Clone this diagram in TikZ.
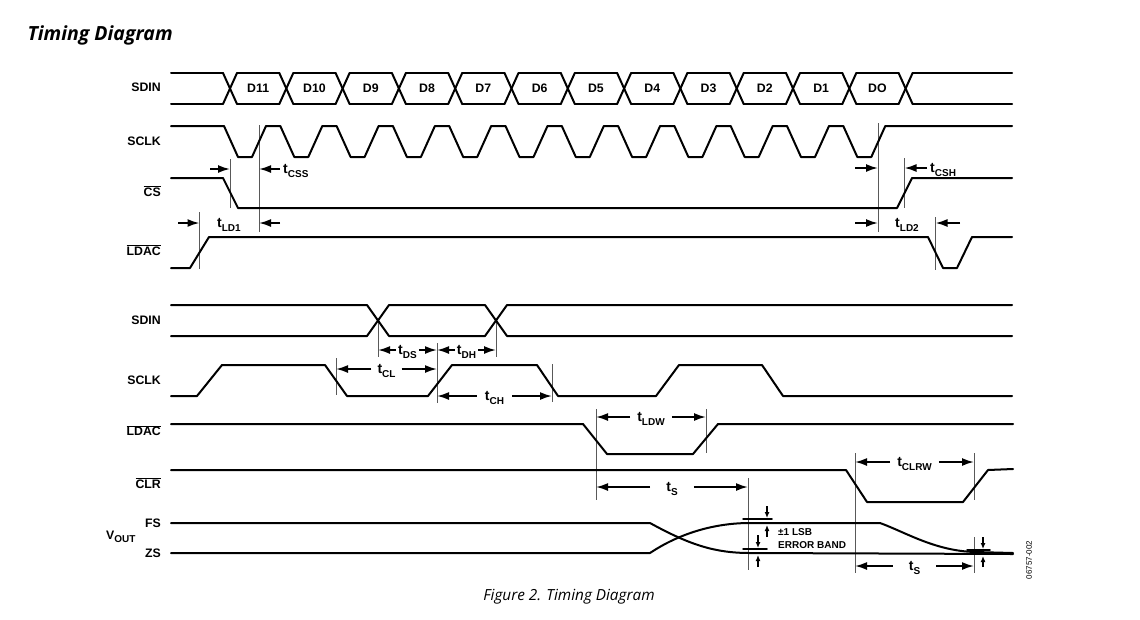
\documentclass[tikz,border=0pt]{standalone}
\usepackage{fontspec}
\setmainfont{Liberation Sans}
\newfontfamily\capfont{Open Sans}
\usepackage{tikz}
\usetikzlibrary{arrows.meta,positioning,calc}

\newcommand{\tlab}[1]{t\raisebox{-3.5pt}{\fontsize{10}{10}\selectfont #1}}
\newcommand{\nbar}[1]{$\overline{\mbox{#1}}$}

\begin{document}
\begin{tikzpicture}[
    x=1pt, y=-1pt,
    >={Latex[length=12pt,width=8pt]},
    wave/.style={line width=2pt, line join=round, line cap=round},
    guide/.style={draw=black!65, line width=0.9pt},
    dim/.style={->, line width=1.8pt},
    sdim/.style={-{Latex[length=6pt,width=5pt]}, line width=1.2pt},
    sig/.style={font=\fontsize{12.3}{13}\selectfont\bfseries, anchor=east, inner sep=0pt},
    bit/.style={font=\fontsize{12.3}{13}\selectfont\bfseries, inner sep=0pt},
    tl/.style={font=\fontsize{14}{14}\selectfont\bfseries, inner sep=2pt}
  ]
  \useasboundingbox (0,0) rectangle (1140,619);

  % titel und unterschrift
  \node[anchor=west, font=\capfont\fontsize{19.5}{20}\selectfont\bfseries\itshape] (title) at (24,35) {Timing Diagram};
  \node[font=\capfont\fontsize{15.3}{16}\selectfont\itshape] (caption) at (569,597) {Figure 2. Timing Diagram};
  \node[rotate=90, font=\fontsize{8}{8}\selectfont] (docnum) at (1029,560) {06757-002};

  % signalnamen
  \node[sig] (l-sdin) at (161,87) {SDIN};
  \node[sig] (l-sclk) at (161,141) {SCLK};
  \node[sig] (l-cs) at (161,191) {\nbar{CS}};
  \node[sig] (l-ldac) at (161,250) {\nbar{LDAC}};
  \node[sig] (l-sdin2) at (161,320) {SDIN};
  \node[sig] (l-sclk2) at (161,380) {SCLK};
  \node[sig] (l-ldac2) at (161,430.5) {\nbar{LDAC}};
  \node[sig] (l-clr) at (161,483) {\nbar{CLR}};
  \node[sig] (l-fs) at (161,523.5) {FS};
  \node[sig] (l-zs) at (161,553.5) {ZS};
  \node[sig, anchor=west] (l-vout) at (106,537) {V\raisebox{-3pt}{\fontsize{10}{10}\selectfont OUT}};

  % hilfslinien oben
  \draw[guide] (230,159) -- (230,208);
  \draw[guide] (259,125) -- (259,232);
  \draw[guide] (199.5,212) -- (199.5,269);
  \draw[guide] (878,123) -- (878,232);
  \draw[guide] (904.5,158) -- (904.5,208);
  \draw[guide] (935.5,217) -- (935.5,270);

  % SDIN bus, D11 ... DO
  \draw[wave] (171,73) -- (223,73);
  \draw[wave] (171,104) -- (223,104);
  \foreach \i in {0,...,12} {
    \draw[wave] ({223+56.3*\i},73) -- ({237+56.3*\i},104);
    \draw[wave] ({223+56.3*\i},104) -- ({237+56.3*\i},73);
  }
  \foreach \n [count=\i from 0] in {D11,D10,D9,D8,D7,D6,D5,D4,D3,D2,D1,DO} {
    \draw[wave] ({237+56.3*\i},73) -- ({279.3+56.3*\i},73);
    \draw[wave] ({237+56.3*\i},104) -- ({279.3+56.3*\i},104);
    \node[bit] (d\i) at ({258.15+56.3*\i},88.5) {\n};
  }
  \draw[wave] (912.6,73) -- (1012,73);
  \draw[wave] (912.6,104) -- (1012,104);

  % SCLK, 12 takte
  \draw[wave] (171,126) foreach \i in {0,...,11} {
      -- ({224+56.3*\i},126) -- ({238+56.3*\i},157) -- ({252+56.3*\i},157) -- ({266+56.3*\i},126)
    } -- (1012,126);

  % CS
  \draw[wave] (171,178) -- (223,178) -- (238,208) -- (897,208) -- (912,178) -- (1012,178);

  % LDAC
  \draw[wave] (171,268) -- (190,268) -- (209,237) -- (928,237) -- (943,268) -- (957,268) -- (972,237) -- (1012,237);

  % t_CSS / t_LD1
  \coordinate (css-a) at (210,169);
  \coordinate (css-b) at (230,169);
  \coordinate (css-c) at (280,169);
  \coordinate (css-d) at (259,169);
  \draw[dim] (css-a) -- (css-b);
  \draw[dim] (css-c) -- (css-d);
  \node[tl, anchor=west] (t-css) at (281,171) {\tlab{CSS}};

  \coordinate (ld1-a) at (178,223);
  \coordinate (ld1-b) at (199.5,223);
  \coordinate (ld1-c) at (280,223);
  \coordinate (ld1-d) at (259,223);
  \draw[dim] (ld1-a) -- (ld1-b);
  \draw[dim] (ld1-c) -- (ld1-d);
  \node[tl] (t-ld1) at (229,225) {\tlab{LD1}};

  % t_CSH / t_LD2
  \coordinate (csh-a) at (855,168);
  \coordinate (csh-b) at (878,168);
  \coordinate (csh-c) at (927,168);
  \coordinate (csh-d) at (904.5,168);
  \draw[dim] (csh-a) -- (csh-b);
  \draw[dim] (csh-c) -- (csh-d);
  \node[tl, anchor=west] (t-csh) at (928,170) {\tlab{CSH}};

  \coordinate (ld2-a) at (855,223);
  \coordinate (ld2-b) at (878,223);
  \coordinate (ld2-c) at (960,223);
  \coordinate (ld2-d) at (935.5,223);
  \draw[dim] (ld2-a) -- (ld2-b);
  \draw[dim] (ld2-c) -- (ld2-d);
  \node[tl] (t-ld2) at (907,225) {\tlab{LD2}};

  % hilfslinien unten
  \draw[guide] (378,320) -- (378,357);
  \draw[guide] (496,320) -- (496,357);
  \draw[guide] (437,343) -- (437,403);
  \draw[guide] (336,358) -- (336,395);
  \draw[guide] (552,364) -- (552,402);
  \draw[guide] (596,409) -- (596,500);
  \draw[guide] (706,409) -- (706,453);
  \draw[guide] (748,478) -- (748,570);
  \draw[guide] (855,453) -- (855,573);
  \draw[guide] (974,453) -- (974,500);
  \draw[guide] (974,537) -- (974,573);

  % SDIN einzelbit
  \draw[wave] (171,305) -- (367,305) -- (389,336) -- (485,336) -- (507,305) -- (1012,305);
  \draw[wave] (171,336) -- (367,336) -- (389,305) -- (485,305) -- (507,336) -- (1012,336);

  % SCLK einzeln
  \draw[wave] (171,396) -- (197,396) -- (222,365) -- (325,365) -- (347,396) -- (428,396) -- (452,365)
    -- (537,365) -- (558,396) -- (656,396) -- (679,365) -- (762,365) -- (783,396) -- (1012,396);

  % LDAC und CLR
  \draw[wave] (171,424) -- (583,424) -- (607,454) -- (693,454) -- (718,424) -- (1013,424);
  \draw[wave] (171,470) -- (846,470) -- (867,502) -- (963,502) -- (988,470) -- (1013,469);

  % VOUT
  \draw[wave] (171,523) -- (650,523) .. controls (690,545) and (715,553) .. (750,553) -- (1013,554);
  \draw[wave] (171,553) -- (650,553) .. controls (680,533) and (715,523) .. (750,523) -- (880,523)
    .. controls (905,532) and (935,551) .. (975,552) -- (1013,553);

  % t_DS, t_DH
  \coordinate (ds-l) at (378,350);
  \coordinate (ds-r) at (437,350);
  \node[tl] (t-ds) at (407.5,352) {\tlab{DS}};
  \draw[dim] (t-ds.west |- ds-l) -- (ds-l);
  \draw[dim] (t-ds.east |- ds-r) -- (ds-r);
  \coordinate (dh-l) at (437,350);
  \coordinate (dh-r) at (496,350);
  \node[tl] (t-dh) at (466.5,352) {\tlab{DH}};
  \draw[dim] (t-dh.west |- dh-l) -- (dh-l);
  \draw[dim] (t-dh.east |- dh-r) -- (dh-r);

  % t_CL, t_CH
  \coordinate (cl-l) at (336,369);
  \coordinate (cl-r) at (437,369);
  \node[tl, inner xsep=6pt] (t-cl) at (386.5,371) {\tlab{CL}};
  \draw[dim] (t-cl.west |- cl-l) -- (cl-l);
  \draw[dim] (t-cl.east |- cl-r) -- (cl-r);
  \coordinate (ch-l) at (437,396);
  \coordinate (ch-r) at (552,396);
  \node[tl, inner xsep=8pt] (t-ch) at (494.5,398) {\tlab{CH}};
  \draw[dim] (t-ch.west |- ch-l) -- (ch-l);
  \draw[dim] (t-ch.east |- ch-r) -- (ch-r);

  % t_LDW, t_CLRW
  \coordinate (ldw-l) at (596,417);
  \coordinate (ldw-r) at (706,417);
  \node[tl, inner xsep=7pt] (t-ldw) at (651,419) {\tlab{LDW}};
  \draw[dim] (t-ldw.west |- ldw-l) -- (ldw-l);
  \draw[dim] (t-ldw.east |- ldw-r) -- (ldw-r);
  \coordinate (clrw-l) at (855,462);
  \coordinate (clrw-r) at (974,462);
  \node[tl, inner xsep=7pt] (t-clrw) at (914.5,464) {\tlab{CLRW}};
  \draw[dim] (t-clrw.west |- clrw-l) -- (clrw-l);
  \draw[dim] (t-clrw.east |- clrw-r) -- (clrw-r);

  % t_S (zweimal)
  \coordinate (s1-l) at (596,487);
  \coordinate (s1-r) at (748,487);
  \node[tl, inner xsep=16pt] (t-s1) at (672,489) {\tlab{S}};
  \draw[dim] (t-s1.west |- s1-l) -- (s1-l);
  \draw[dim] (t-s1.east |- s1-r) -- (s1-r);
  \coordinate (s2-l) at (855,566);
  \coordinate (s2-r) at (974,566);
  \node[tl, inner xsep=16pt] (t-s2) at (914.5,568) {\tlab{S}};
  \draw[dim] (t-s2.west |- s2-l) -- (s2-l);
  \draw[dim] (t-s2.east |- s2-r) -- (s2-r);

  % fehlerband
  \draw[wave, line width=1.5pt] (743,519) -- (772,519);
  \draw[wave, line width=1.5pt] (743,549) -- (767,549);
  \draw[sdim] (767,506) -- (767,518);
  \draw[sdim] (767,537) -- (767,525);
  \draw[sdim] (758,535) -- (758,548);
  \draw[sdim] (758,567) -- (758,555);
  \node[anchor=west, align=left, inner sep=0pt, font=\fontsize{10}{13}\selectfont\bfseries] (eb-txt) at (778,539) {±1 LSB\\ERROR BAND};
  \draw[wave, line width=1.5pt] (967,550) -- (990,550);
  \draw[sdim] (983,537) -- (983,549);
  \draw[sdim] (983,567) -- (983,556);
\end{tikzpicture}
\end{document}
